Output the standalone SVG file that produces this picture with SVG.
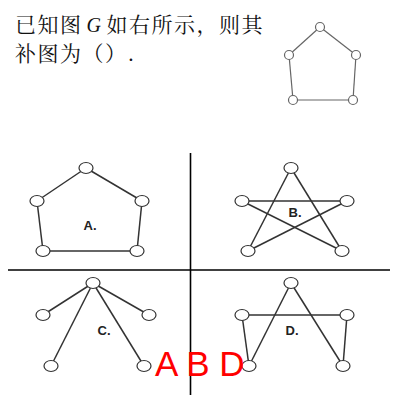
<svg xmlns="http://www.w3.org/2000/svg" width="400" height="400" viewBox="0 0 400 400">
<style>
.q{font-family:"SimSun","Noto Serif CJK SC","Noto Sans CJK SC",serif;font-size:21px;fill:#111;letter-spacing:1.5px}
.g{font-family:"Liberation Serif",serif;font-style:italic;font-size:20px;fill:#111}
.e{stroke:#666;stroke-width:1.2;fill:none}
.e2{stroke:#333;stroke-width:1.5;fill:none}
.n{fill:#fff;stroke:#666;stroke-width:1.2}
.n2{fill:#fff;stroke:#333;stroke-width:1.2}
.lb{font-family:"Liberation Sans",Arial,sans-serif;font-weight:bold;font-size:13px;fill:#222;text-anchor:middle}
.ans{font-family:"Liberation Sans",Arial,sans-serif;font-size:35px;fill:#ff0000}
.grid{stroke:#000;stroke-width:1.6}
</style>
<rect width="400" height="400" fill="#fff"/>
<text class="q" x="15" y="32">已知图<tspan class="g" dx="4">G</tspan><tspan dx="4">如右所示，则其</tspan></text>
<text class="q" x="15" y="61">补图为（）.</text>
<g id="grid">
<line class="grid" x1="190.5" y1="153" x2="190.5" y2="395"/>
<line class="grid" x1="8" y1="270" x2="390" y2="270"/>
</g>
<g id="connectors">
<g class="e">
<line x1="320" y1="27" x2="289" y2="55"/>
<line x1="320" y1="27" x2="356" y2="55"/>
<line x1="289" y1="55" x2="293" y2="100"/>
<line x1="356" y1="55" x2="353" y2="100"/>
<line x1="293" y1="100" x2="353" y2="100"/>
</g>
<g class="e2">
<line x1="86" y1="168" x2="37" y2="201"/>
<line x1="86" y1="168" x2="142" y2="201"/>
<line x1="37" y1="201" x2="43" y2="251"/>
<line x1="142" y1="201" x2="137" y2="251"/>
<line x1="43" y1="251" x2="137" y2="251"/>
<line x1="291" y1="168" x2="248" y2="251"/>
<line x1="291" y1="168" x2="342" y2="251"/>
<line x1="242" y1="201" x2="347" y2="201"/>
<line x1="242" y1="201" x2="342" y2="251"/>
<line x1="347" y1="201" x2="248" y2="251"/>
<line x1="93" y1="283" x2="43" y2="315"/>
<line x1="93" y1="283" x2="149" y2="315"/>
<line x1="93" y1="283" x2="51" y2="366"/>
<line x1="93" y1="283" x2="144" y2="366"/>
<line x1="291" y1="283" x2="249" y2="366"/>
<line x1="291" y1="283" x2="343" y2="366"/>
<line x1="242" y1="315" x2="347" y2="315"/>
<line x1="242" y1="315" x2="249" y2="366"/>
<line x1="347" y1="315" x2="343" y2="366"/>
</g>
</g>
<g id="G">
<circle class="n" cx="320" cy="27" r="4.5"/>
<circle class="n" cx="289" cy="55" r="4.5"/>
<circle class="n" cx="356" cy="55" r="4.5"/>
<circle class="n" cx="293" cy="100" r="4.5"/>
<circle class="n" cx="353" cy="100" r="4.5"/>
</g>
<g id="A">
<ellipse class="n2" cx="86" cy="168" rx="7" ry="5.5"/>
<ellipse class="n2" cx="37" cy="201" rx="7" ry="5.5"/>
<ellipse class="n2" cx="142" cy="201" rx="7" ry="5.5"/>
<ellipse class="n2" cx="43" cy="251" rx="7" ry="5.5"/>
<ellipse class="n2" cx="137" cy="251" rx="7" ry="5.5"/>
<text class="lb" x="90" y="230">A.</text>
</g>
<g id="B">
<ellipse class="n2" cx="291" cy="168" rx="7" ry="5.5"/>
<ellipse class="n2" cx="242" cy="201" rx="7" ry="5.5"/>
<ellipse class="n2" cx="347" cy="201" rx="7" ry="5.5"/>
<ellipse class="n2" cx="248" cy="251" rx="7" ry="5.5"/>
<ellipse class="n2" cx="342" cy="251" rx="7" ry="5.5"/>
<text class="lb" x="295" y="217">B.</text>
</g>
<g id="C">
<ellipse class="n2" cx="93" cy="283" rx="7" ry="5.5"/>
<ellipse class="n2" cx="43" cy="315" rx="7" ry="5.5"/>
<ellipse class="n2" cx="149" cy="315" rx="7" ry="5.5"/>
<ellipse class="n2" cx="51" cy="366" rx="7" ry="5.5"/>
<ellipse class="n2" cx="144" cy="366" rx="7" ry="5.5"/>
<text class="lb" x="104" y="335">C.</text>
</g>
<g id="D">
<ellipse class="n2" cx="291" cy="283" rx="7" ry="5.5"/>
<ellipse class="n2" cx="242" cy="315" rx="7" ry="5.5"/>
<ellipse class="n2" cx="347" cy="315" rx="7" ry="5.5"/>
<ellipse class="n2" cx="249" cy="366" rx="7" ry="5.5"/>
<ellipse class="n2" cx="343" cy="366" rx="7" ry="5.5"/>
<text class="lb" x="292" y="335">D.</text>
</g>
<text class="ans" x="155" y="376">A B D</text>
</svg>
